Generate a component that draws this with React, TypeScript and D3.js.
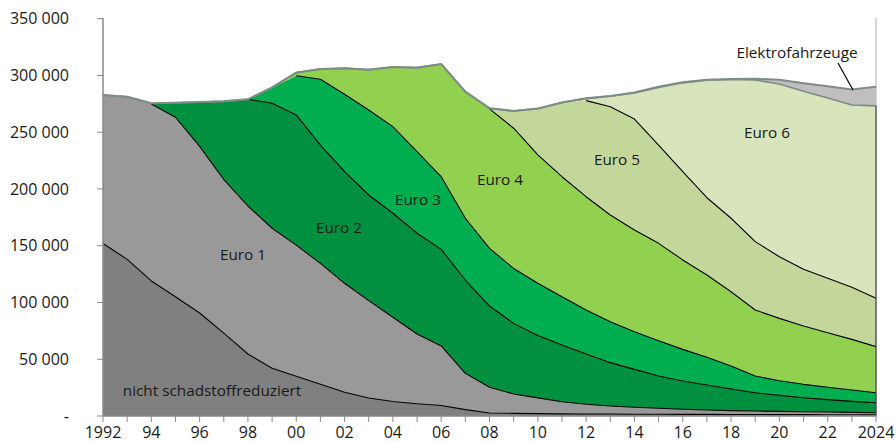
import React from "react";
import * as d3 from "d3";

const years = d3.range(1992, 2025);
const xTickLabels = ["1992", "94", "96", "98", "00", "02", "04", "06", "08", "10", "12", "14", "16", "18", "20", "22", "2024"];
const yTickValues = [0, 50000, 100000, 150000, 200000, 250000, 300000, 350000];
const yTickLabels = ["-", "50 000", "100 000", "150 000", "200 000", "250 000", "300 000", "350 000"];

const seriesNames = ["nicht schadstoffreduziert", "Euro 1", "Euro 2", "Euro 3", "Euro 4", "Euro 5", "Euro 6", "Elektrofahrzeuge"];

const nicht = [152000, 138000, 119000, 105000, 90700, 73000, 54600, 42000, 35000, 28000, 20900, 15800, 12800, 10800, 9200, 5600, 2700, 2300, 2100, 1900, 1800, 1700, 1600, 1500, 1400, 1400, 1300, 1300, 1200, 1200, 1100, 1100, 1000];
const euro1 = [130800, 143300, 155900, 158200, 146800, 135300, 130400, 123400, 115500, 106500, 96000, 85800, 74200, 61400, 52500, 32000, 22600, 17100, 13900, 10700, 8500, 7100, 6100, 5300, 4500, 3900, 3400, 3100, 2900, 2600, 2400, 2100, 1900];
const euro2 = [0, 0, 600, 12800, 39100, 68900, 94000, 110100, 114700, 104200, 98300, 93100, 91600, 88800, 85100, 82200, 71600, 62200, 55000, 49900, 44300, 38200, 33400, 28400, 24900, 22000, 19100, 16100, 14100, 12300, 10900, 9700, 8800];
const euro3 = [0, 0, 0, 0, 0, 0, 0, 14000, 34600, 57900, 68200, 74900, 76300, 71900, 64000, 54400, 50800, 48400, 45900, 42600, 38800, 36100, 33200, 31100, 27900, 24400, 20200, 14700, 12900, 11800, 10900, 10000, 8800];
const euro4 = [0, 0, 0, 0, 0, 0, 0, 0, 2700, 9100, 22900, 35500, 52600, 74000, 99300, 111500, 122900, 123500, 113100, 105700, 99800, 94000, 89600, 85800, 78800, 72500, 65500, 58200, 54900, 51400, 48100, 44600, 40600];
const euro5 = [0, 0, 0, 0, 0, 0, 0, 0, 0, 0, 0, 0, 0, 0, 0, 0, 500, 15200, 40800, 65400, 84600, 95400, 97700, 86600, 77700, 68100, 64700, 60200, 54300, 49900, 47900, 45900, 42600];
const euro6 = [0, 0, 0, 0, 0, 0, 0, 0, 0, 0, 0, 0, 0, 0, 0, 0, 0, 0, 0, 0, 1800, 9200, 23000, 50800, 78300, 103600, 122300, 142400, 152100, 156800, 158800, 160600, 169500];
const elektro = [0, 0, 0, 0, 0, 0, 0, 0, 0, 0, 0, 0, 0, 0, 0, 0, 0, 0, 0, 0, 400, 300, 400, 500, 500, 400, 400, 1000, 3800, 7200, 10400, 13700, 16800];

const seriesValues = [nicht, euro1, euro2, euro3, euro4, euro5, euro6, elektro];
const colors = ["#808080", "#999999", "#00903F", "#00AE50", "#92D050", "#C4D79B", "#D8E4BC", "#BFBFBF"];

const W = 896;
const H = 442;
const FONT = "'Open Sans', 'Noto Sans', sans-serif";

export default function App() {
  const x = d3.scaleLinear().domain([1992, 2024]).range([103, 876]);
  const y = d3.scaleLinear().domain([0, 350000]).range([416, 18.7]);

  const rows = years.map((yr, i) => {
    const r: any = { year: yr };
    seriesNames.forEach((n, k) => (r[n] = seriesValues[k][i]));
    return r;
  });
  const stacked = d3.stack<any>().keys(seriesNames)(rows);

  const area = d3
    .area<any>()
    .x((d) => x(d.data.year))
    .y0((d) => y(d[0]))
    .y1((d) => y(d[1]));

  // black boundary lines on top of each layer, where layers above are present
  const boundaries = stacked.slice(0, 6).map((layer, k) => {
    const above = years.map((_, i) => {
      let s = 0;
      for (let j = k + 1; j < seriesValues.length; j++) s += seriesValues[j][i];
      return s;
    });
    const line = d3
      .line<any>()
      .defined((d, i) => above[i] > 3000 || (i + 1 < above.length && above[i + 1] > 3000))
      .x((d) => x(d.data.year))
      .y((d) => y(d[1]));
    return line(layer as any);
  });

  const topLine = d3
    .line<any>()
    .x((d) => x(d.data.year))
    .y((d) => y(d[1]));
  const e6Top = topLine(stacked[6] as any);
  const totalTop = topLine(stacked[7] as any);
  const last = years.length - 1;

  const labels = [
    { t: "nicht schadstoffreduziert", x: 212, y: 391 },
    { t: "Euro 1", x: 243, y: 255 },
    { t: "Euro 2", x: 339, y: 228 },
    { t: "Euro 3", x: 418, y: 200 },
    { t: "Euro 4", x: 500, y: 180 },
    { t: "Euro 5", x: 617, y: 160 },
    { t: "Euro 6", x: 767, y: 133 },
    { t: "Elektrofahrzeuge", x: 797, y: 53 },
  ];

  return (
    <svg width={W} height={H} style={{ position: "absolute", left: 0, top: 0, background: "#fff" }} fontFamily={FONT}>
      {/* right frame line */}
      <line x1={x(2024)} x2={x(2024)} y1={18} y2={416} stroke="#c8c8c8" strokeWidth={1.5} />
      {stacked.map((layer, k) => (
        <path key={k} d={area(layer as any) || ""} fill={colors[k]} stroke="none" />
      ))}
      {boundaries.map((d, k) => (
        <path key={k} d={d || ""} fill="none" stroke="#000" strokeWidth={1.1} strokeLinejoin="round" />
      ))}
      <path d={e6Top || ""} fill="none" stroke="#7E8C88" strokeWidth={1.6} />
      <path d={totalTop || ""} fill="none" stroke="#7E8C88" strokeWidth={2} />
      <line x1={x(2024)} x2={x(2024)} y1={y(0)} y2={y(stacked[6][last][1])} stroke="#444" strokeWidth={1.2} />

      {/* axes */}
      <line x1={x(1992)} x2={x(1992)} y1={18} y2={416} stroke="#8a8a8a" strokeWidth={1.5} />
      <line x1={x(1992)} x2={x(2024)} y1={416} y2={416} stroke="#8a8a8a" strokeWidth={1.5} />
      {yTickValues.map((v, i) => (
        <g key={i}>
          <line x1={97} x2={103} y1={y(v)} y2={y(v)} stroke="#8a8a8a" strokeWidth={1} />
          <text x={69} y={y(v)} dy="0.35em" textAnchor="end" fontSize={16} fill="#1a1a1a">
            {yTickLabels[i]}
          </text>
        </g>
      ))}
      {years.map((yr) => (
        <line key={yr} x1={x(yr)} x2={x(yr)} y1={416} y2={422} stroke="#8a8a8a" strokeWidth={1} />
      ))}
      {xTickLabels.map((t, i) => (
        <text key={t} x={x(1992 + i * 2)} y={437.5} textAnchor="middle" fontSize={16} fill="#1a1a1a">
          {t}
        </text>
      ))}

      {labels.map((l) => (
        <text key={l.t} x={l.x} y={l.y} dy="0.35em" textAnchor="middle" fontSize={15.3} fill="#1a1a1a">
          {l.t}
        </text>
      ))}
      <line x1={838} y1={63} x2={853} y2={90} stroke="#000" strokeWidth={1.2} />
    </svg>
  );
}
